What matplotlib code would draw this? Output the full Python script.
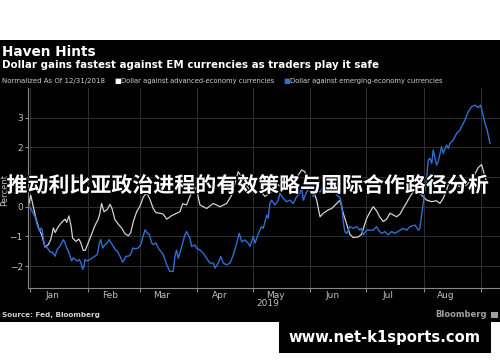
import matplotlib
matplotlib.use("Agg")
import matplotlib.pyplot as plt
import matplotlib.dates as mdates
import matplotlib.patheffects as pe
from matplotlib.patches import Rectangle
import pandas as pd

# days since 2018-12-31 and percent change
start = pd.Timestamp("2018-12-31")

adv_days = [0, 1.3, 2.7, 4.1, 5.9, 7.2, 9.0, 10.8, 12.1, 13.5, 14.5, 16.2, 18.0, 19.8, 20.7,
            21.9, 23.0, 23.9, 25.7, 27.2, 28.2, 29.6, 30.7, 32.3, 34.2, 35.9, 37.7, 38.6, 39.5,
            40.8, 42.6, 44.0, 45.1, 46.7, 48.5, 50.3, 52.1, 53.9, 55.2, 56.6, 58.4, 60.2, 62.0,
            63.8, 65.6, 67.3, 68.8, 71.0, 72.7, 74.6, 77.3, 80.0, 81.7, 83.2, 85.3, 87.1, 89.4,
            90.7, 92.5, 96.1, 99.7, 103.3, 106.9, 109.6, 113.1, 115.0, 117.3, 119.5, 122.2,
            124.8, 127.5, 130.2, 131.8, 134.5, 137.2, 141.0, 143.2, 144.8, 147.3, 149.1, 150.9,
            153.6, 155.4, 157.2, 159.0, 161.6, 163.5, 166.2, 168.0, 168.9, 169.7, 171.6, 173.3,
            175.1, 177.8, 179.6, 180.5, 182.3, 184.1, 185.9, 187.7, 189.5, 191.3, 193.1, 194.9,
            196.7, 198.5, 200.3, 202.1, 203.9, 205.7, 207.4, 209.3, 211.0, 212.8, 214.7, 217.4,
            220.0, 221.8, 223.6, 225.4, 227.2, 229.9, 232.6, 236.2, 239.8, 242.5, 244.3, 246.1,
            247.3]
adv_vals = [0, 0.39, 0.0, -0.39, -0.78, -0.94, -1.36, -1.28, -1.11, -0.72, -0.87, -0.67, -0.53,
            -0.42, -0.53, -0.31, -0.64, -1.06, -1.17, -1.09, -1.2, -1.47, -1.47, -1.22, -0.91,
            -0.64, -0.42, -0.22, 0.11, -0.17, -0.09, 0.08, -0.06, -0.44, -0.59, -0.72, -0.91,
            -0.98, -0.87, -0.5, -0.17, 0.02, 0.33, 0.47, 0.24, -0.06, -0.2, -0.22, -0.25, -0.42,
            -0.3, -0.22, -0.17, 0.1, 0.06, 0.35, 0.67, 0.56, 0.06, -0.06, 0.11, 0.0, 0.11, 0.39,
            1.18, 1.0, 0.75, 0.55, 0.45, 0.55, 0.35, 0.45, 0.56, 0.75, 0.6, 0.56, 0.8, 1.0, 1.24,
            1.18, 0.67, 0.56, 0.22, -0.34, -0.22, -0.11, -0.06, 0.11, 0.22, 0.0, -0.22, -0.6,
            -0.93, -1.04, -1.02, -0.93, -0.75, -0.4, -0.18, 0.0, -0.14, -0.36, -0.5, -0.42, -0.22,
            -0.28, -0.34, -0.25, -0.05, 0.14, 0.34, 0.5, 0.6, 0.45, 0.34, 0.22, 0.17, 0.2, 0.11,
            0.28, 0.56, 0.9, 0.78, 0.67, 0.73, 1.0, 1.32, 1.42, 1.0, 0.8]

em_days = [0, 1.3, 2.7, 3.6, 4.8, 5.8, 6.3, 6.8, 7.5, 8.1, 9.0, 9.9, 10.8, 11.7, 12.9, 14.4,
           15.6, 17.1, 18.9, 19.8, 20.7, 21.6, 22.5, 23.4, 24.2, 25.2, 26.4, 27.5, 28.4, 29.3,
           30.0, 30.5, 31.8, 33.2, 34.7, 35.9, 37.2, 38.3, 39.0, 40.1, 41.3, 42.6, 43.6, 44.6,
           45.8, 46.7, 48.0, 49.4, 50.9, 51.7, 52.6, 53.9, 55.2, 56.3, 57.5, 59.3, 60.6, 61.6,
           62.9, 64.1, 65.2, 66.5, 67.3, 68.8, 70.0, 71.3, 72.7, 74.6, 76.3, 78.1, 79.0, 79.9,
           80.8, 82.7, 84.4, 85.3, 87.1, 88.0, 89.8, 90.7, 92.5, 94.3, 96.1, 97.9, 99.7, 100.6,
           102.4, 103.7, 105.1, 106.9, 108.7, 110.5, 112.3, 113.7, 115.0, 116.8, 118.5, 119.5,
           121.2, 122.2, 124.0, 125.7, 126.6, 128.5, 129.3, 130.2, 131.1, 132.9, 134.7, 135.6,
           137.4, 139.2, 141.0, 142.8, 144.6, 146.4, 147.3, 148.2, 150.0, 151.8, 153.6, 155.4,
           157.2, 159.0, 160.8, 162.6, 164.4, 166.2, 168.0, 168.9, 169.7, 170.6, 171.6, 173.3,
           175.1, 176.9, 178.7, 179.6, 180.5, 182.3, 184.1, 185.9, 187.7, 188.6, 190.4, 192.2,
           194.0, 195.8, 197.6, 200.3, 202.1, 203.9, 205.7, 208.4, 210.2, 211.0, 212.8, 214.7,
           215.5, 216.4, 217.4, 218.2, 220.0, 220.9, 222.7, 223.6, 225.4, 226.3, 227.2, 229.0,
           230.8, 232.6, 235.3, 237.1, 238.9, 240.7, 242.5, 243.8, 246.1, 247.3, 248.8]
em_vals = [0, -0.06, -0.22, -0.33, -0.61, -0.78, -0.83, -0.72, -0.78, -1.06, -1.36, -1.36, -1.44,
           -1.53, -1.53, -1.67, -1.44, -1.33, -1.11, -1.22, -1.39, -1.5, -1.67, -1.83, -1.72,
           -1.78, -1.83, -1.78, -1.89, -2.11, -2.0, -1.78, -1.83, -1.78, -1.72, -1.67, -1.61,
           -1.22, -1.11, -1.39, -1.28, -1.22, -1.11, -1.22, -1.33, -1.44, -1.5, -1.67, -1.87,
           -1.78, -1.67, -1.67, -1.61, -1.39, -1.42, -1.39, -1.28, -1.06, -0.78, -0.89, -0.94,
           -1.22, -1.28, -1.22, -1.39, -1.5, -1.61, -1.96, -2.18, -2.18, -1.68, -1.46, -1.74,
           -1.34, -0.95, -0.84, -1.06, -1.34, -1.29, -1.4, -1.46, -1.57, -1.74, -1.9, -1.9,
           -2.07, -1.9, -1.68, -1.9, -1.96, -1.9, -1.62, -1.23, -0.9, -1.18, -1.12, -1.23, -1.34,
           -1.01, -1.23, -0.9, -0.67, -0.73, -0.28, -0.39, 0.11, 0.22, 0.06, 0.22, 0.45, 0.28,
           0.17, 0.22, 0.11, 0.34, 0.45, 0.67, 0.22, 0.5, 0.6, 0.35, 0.55, 0.5, 0.65, 0.45, 0.5,
           0.6, 0.4, 0.3, 0.05, -0.5, -0.84, -0.9, -0.67, -0.73, -0.67, -0.79, -0.73, -0.95,
           -0.79, -0.79, -0.79, -0.67, -0.79, -0.9, -0.84, -0.95, -0.84, -0.9, -0.79, -0.73,
           -0.79, -0.67, -0.62, -0.79, -0.73, 0.11, 1.0, 1.57, 1.63, 1.46, 1.91, 1.4, 1.52, 2.02,
           1.8, 2.08, 1.96, 2.13, 2.24, 2.47, 2.58, 2.92, 3.2, 3.37, 3.42, 3.34, 3.42, 2.81,
           2.58, 2.13]

y_ticks = [-2, -1, 0, 1, 2, 3]

adv_dates = start + pd.to_timedelta(adv_days, unit="D")
em_dates = start + pd.to_timedelta(em_days, unit="D")

fig = plt.figure(figsize=(5, 3.62), dpi=100, facecolor="white")
fig.patches.append(Rectangle((0, 1 - 322 / 362), 1, 282 / 362, transform=fig.transFigure,
                             facecolor="black", edgecolor="none", zorder=-5))

ax = fig.add_axes([0.0566, 0.2044, 0.9434, 0.5525])
ax.set_facecolor("black")

ax.plot(adv_dates, adv_vals, color="#d2d2d2", lw=0.9)
ax.plot(em_dates, em_vals, color="#2f6fd0", lw=1.0)

ax.set_xlim(start, start + pd.Timedelta(days=254.2))
ax.set_ylim(-2.74, 4.0)
ax.set_yticks(y_ticks)

ax.xaxis.set_major_locator(mdates.MonthLocator())
ax.xaxis.set_major_formatter(plt.NullFormatter())
ax.xaxis.set_minor_locator(mdates.MonthLocator(bymonthday=13))
ax.xaxis.set_minor_formatter(mdates.DateFormatter("%b"))

ax.grid(True, which="major", color="#303030", lw=0.7)
ax.tick_params(axis="x", which="major", length=3, color="#888888")
ax.tick_params(axis="x", which="minor", length=0, pad=2, labelsize=6.5, labelcolor="#c0c0c0")
ax.tick_params(axis="y", length=2.5, color="#888888", pad=1.5, labelsize=6.5, labelcolor="#c0c0c0")

for side in ["top", "right"]:
    ax.spines[side].set_visible(False)
for side in ["left", "bottom"]:
    ax.spines[side].set_color("#888888")
    ax.spines[side].set_linewidth(0.8)

ax.set_ylabel("Percent", color="#c0c0c0", fontsize=6)
ax.yaxis.set_label_coords(-0.041, 0.49)

# header
fig.text(0.004, 1 - 55.5 / 362, "Haven Hints", color="white", fontsize=9.8,
         fontweight="bold", va="baseline")
fig.text(0.004, 1 - 68.5 / 362, "Dollar gains fastest against EM currencies as traders play it safe",
         color="white", fontsize=7.35, fontweight="bold", va="baseline")
fig.text(0.004, 1 - 83.5 / 362, "Normalized As Of 12/31/2018", color="#d0d0d0", fontsize=5.0,
         va="baseline")
fig.text(0.229, 1 - 83.5 / 362, "■", color="white", fontsize=5.0, va="baseline")
fig.text(0.242, 1 - 83.5 / 362, "Dollar against advanced-economy currencies", color="#d0d0d0",
         fontsize=4.85, va="baseline")
fig.text(0.567, 1 - 83.5 / 362, "■", color="#2f6fd0", fontsize=5.0, va="baseline")
fig.text(0.581, 1 - 83.5 / 362, "Dollar against emerging-economy currencies", color="#d0d0d0",
         fontsize=4.85, va="baseline")

fig.text(268 / 500, 1 - 304 / 362, "2019", color="#c0c0c0", fontsize=6.5, ha="center", va="center")

# footer
fig.text(0.005, 1 - 315 / 362, "Source: Fed, Bloomberg", color="#d0d0d0", fontsize=5.2,
         fontweight="bold", va="center")
fig.text(0.974, 1 - 314.5 / 362, "Bloomberg", color="#a0a0a0", fontsize=6, fontweight="bold",
         ha="right", va="center")
fig.patches.append(Rectangle((491 / 500, 1 - 318 / 362), 7 / 500, 6 / 362, transform=fig.transFigure,
                             facecolor="#a0a0a0", edgecolor="none", zorder=2))

# overlay headline
fig.text(0.496, 1 - 185.5 / 362, "推动利比亚政治进程的有效策略与国际合作路径分析", color="white",
         fontsize=15.1, fontweight="bold", family=["Noto Sans CJK SC", "DejaVu Sans"],
         ha="center", va="center", zorder=10,
         path_effects=[pe.withStroke(linewidth=1.5, foreground="black")])

# watermark box
fig.patches.append(Rectangle((279 / 500, 1 - 353 / 362), 212 / 500, 31 / 362,
                             transform=fig.transFigure, facecolor="black", edgecolor="none", zorder=1))
fig.text(384 / 500, 1 - 337.5 / 362, "www.net-k1sports.com", color="white", fontsize=10.6,
         fontweight="bold", ha="center", va="center")

fig.savefig("out.png", dpi=100, facecolor=fig.get_facecolor())
